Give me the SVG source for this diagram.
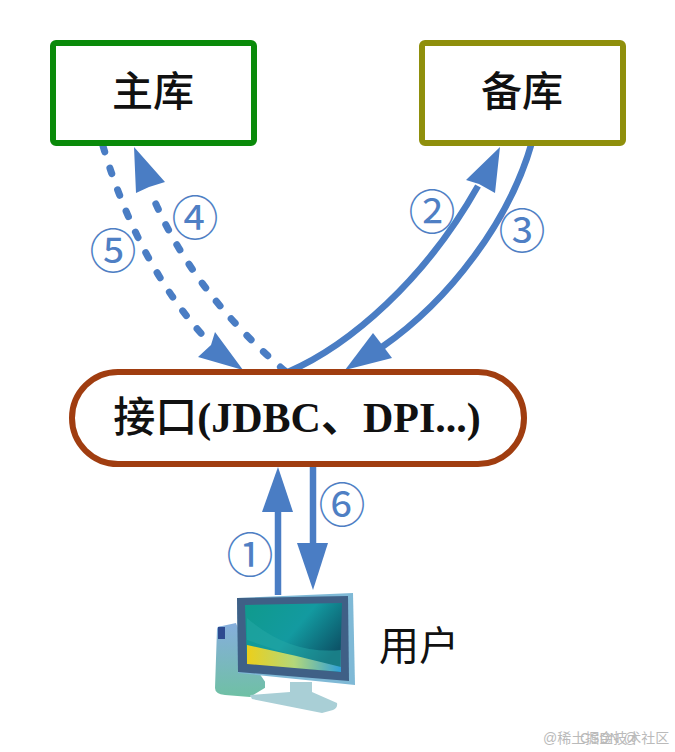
<svg xmlns="http://www.w3.org/2000/svg" width="675" height="752" viewBox="0 0 675 752">
<style>
.lbl{font-family:"Liberation Serif","Noto Sans CJK SC",serif;font-weight:700;fill:#111;text-anchor:middle}
.cjk{font-weight:500}
.num{font-family:"Noto Sans CJK SC","DejaVu Sans",sans-serif;font-size:47px;fill:#4f7fc4;text-anchor:middle}
.ln{fill:none;stroke:#4a7dc4;stroke-width:6.5}
.dash{stroke-dasharray:6 17;stroke-linecap:round;stroke-width:7}
.hd{fill:#4a7dc4}
.wm{font-family:"Liberation Sans","Noto Sans CJK SC",sans-serif;font-size:14px;fill:#aaa}
</style>
<defs>
<linearGradient id="scr" x1="0" y1="0" x2="1" y2="0.6"><stop offset="0" stop-color="#0f9a8c"/><stop offset=".55" stop-color="#139aa0"/><stop offset="1" stop-color="#0c5468"/></linearGradient>
<linearGradient id="band" x1="0" y1="0" x2="1" y2="0"><stop offset="0" stop-color="#eccf1a"/><stop offset=".5" stop-color="#b4d87a"/><stop offset="1" stop-color="#2f9fd8"/></linearGradient>
<linearGradient id="tower" x1="0" y1="0" x2="0" y2="1"><stop offset="0" stop-color="#86aedd"/><stop offset="1" stop-color="#6fc0a4"/></linearGradient>
</defs>
<rect width="675" height="752" fill="#fff"/>
<g id="connectors">
<path class="ln dash" d="M103 146Q138 265 207 340"/>
<path class="hd" d="M243 370L198 357L211 345L215 332Z"/>
<path class="ln dash" d="M285 371Q190 290 150 190"/>
<path class="hd" d="M134 147L165 182L149 187L136 193Z"/>
<path class="ln" d="M288 372C350 345 425 280 478 186"/>
<path class="hd" d="M500 147L495 193L479 184L466 180Z"/>
<path class="ln" d="M532 142C510 220 450 300 382 347"/>
<path class="hd" d="M345 370L373 333L383 346L392 358Z"/>
<path class="ln" d="M278 595V505"/>
<path class="hd" d="M278 467L293 512H262Z"/>
<path class="ln" d="M313 462V550"/>
<path class="hd" d="M313 590L297 543H328Z"/>
</g>
<g id="master"><rect x="53" y="43" width="201" height="100" rx="3" fill="#fff" stroke="#0a8a0a" stroke-width="6"/><text class="lbl cjk" x="153" y="106" font-size="41">主库</text></g>
<g id="standby"><rect x="422" y="43" width="201" height="100" rx="3" fill="#fff" stroke="#8f8f0c" stroke-width="6"/><text class="lbl cjk" x="522" y="106" font-size="41">备库</text></g>
<g id="interface"><rect x="72" y="372" width="452" height="92" rx="46" fill="#fff" stroke="#a03d10" stroke-width="6"/><text class="lbl" x="297" y="432" font-size="42"><tspan class="cjk">接口</tspan>(JDBC、DPI...)</text></g>
<g id="labels">
<text class="num" x="432" y="229">②</text>
<text class="num" x="522" y="248">③</text>
<text class="num" x="195" y="235">④</text>
<text class="num" x="113" y="268">⑤</text>
<text class="num" x="342" y="522">⑥</text>
<text class="num" x="250" y="572">①</text>
</g>
<g id="user">
<path d="M217 629Q217 626 222 626L236 623L250 660L268 686L250 697L225 695Q215 694 215 688Z" fill="url(#tower)"/>
<rect x="218" y="627" width="7" height="12" fill="#2d4a90"/>
<path d="M290 682H312V692L337 703Q338 708 333 710L322 713L252 699L250 695L290 692Z" fill="#a9cfd6"/>
<path d="M265 678H289V690L265 693Z" fill="#fff"/>
<path d="M237 598L353 593L355 685L238 673Z" fill="#7fb9d6"/>
<path d="M237 598L348 596L349 681L238 672Z" fill="#3f6086"/>
<path d="M245 605L342 603L340 672L247 663Z" fill="url(#scr)"/>
<path d="M247 618Q290 655 341 650V672L247 640Z" fill="#25a8a5" opacity=".5"/>
<path d="M247 645Q295 655 341 667V672L247 664Z" fill="url(#band)"/>
</g>
<text id="user-label" x="419" y="660" font-family="'Liberation Serif','Noto Sans CJK SC',serif" font-size="40" fill="#111" text-anchor="middle">用户</text>
<g id="watermark" opacity=".8">
<text class="wm" x="543" y="743">@稀土掘金技术社区</text>
<text class="wm" x="580" y="743">CSDN @</text>
</g>
</svg>
